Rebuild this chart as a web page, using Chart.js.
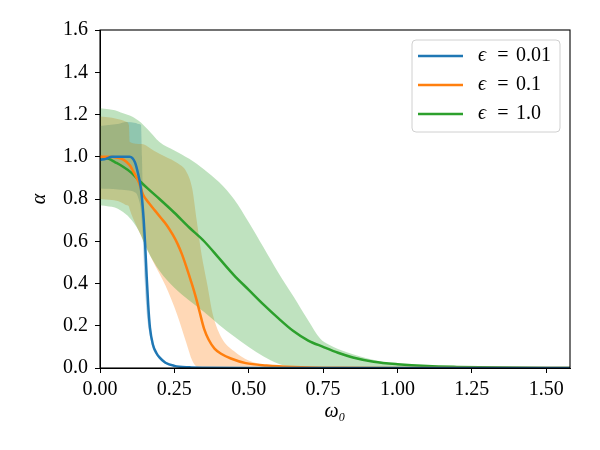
<!DOCTYPE html>
<html>
<head>
<meta charset="utf-8">
<script src="https://cdn.jsdelivr.net/npm/chart.js@4/dist/chart.umd.min.js"></script>
<style>
  body { margin: 0; background: #fff; }
  #wrap { width: 600px; height: 450px; }
</style>
</head>
<body>
<div id="wrap"><canvas id="chart" width="600" height="450"></canvas></div>
<script>
// eps = 0.01
const blueX = [0, 0.02, 0.04, 0.07, 0.10, 0.117, 0.128, 0.137, 0.142, 0.147, 0.152, 0.157, 0.162, 0.168, 0.178, 0.19, 0.20, 0.22, 0.25, 0.30, 0.35, 0.5, 1.0, 1.58];
const blueY = [0.985, 0.99, 1.0, 1.0, 1.0, 0.975, 0.92, 0.855, 0.79, 0.70, 0.58, 0.43, 0.30, 0.19, 0.11, 0.07, 0.05, 0.025, 0.01, 0.003, 0.001, 0, 0, 0];
const blueBandX = [0, 0.03, 0.06, 0.09, 0.12, 0.13, 0.138, 0.141, 0.145, 0.15, 0.155, 0.16, 0.168, 0.178, 0.19, 0.2, 0.22, 0.25, 0.3, 0.35];
const blueUpper = [1.145, 1.15, 1.155, 1.165, 1.16, 1.155, 1.15, 1.0, 0.76, 0.62, 0.48, 0.34, 0.21, 0.12, 0.075, 0.055, 0.028, 0.011, 0.003, 0.001];
const blueLower = [0.85, 0.848, 0.845, 0.842, 0.83, 0.80, 0.74, 0.68, 0.58, 0.42, 0.30, 0.22, 0.15, 0.09, 0.06, 0.042, 0.02, 0.008, 0.002, 0];

// eps = 0.1
const orangeX = [0, 0.03, 0.06, 0.08, 0.10, 0.116, 0.13, 0.145, 0.165, 0.185, 0.205, 0.225, 0.245, 0.26, 0.275, 0.29, 0.305, 0.315, 0.325, 0.335, 0.35, 0.365, 0.385, 0.41, 0.44, 0.49, 0.56, 0.65, 0.8, 1.0, 1.58];
const orangeY = [1.0, 1.0, 0.995, 0.985, 0.96, 0.92, 0.88, 0.82, 0.78, 0.745, 0.71, 0.675, 0.63, 0.59, 0.54, 0.48, 0.415, 0.37, 0.32, 0.265, 0.185, 0.135, 0.092, 0.065, 0.045, 0.023, 0.012, 0.005, 0.001, 0, 0];
const orangeBandX = [0, 0.04, 0.07, 0.09, 0.097, 0.1, 0.14, 0.18, 0.22, 0.26, 0.29, 0.31, 0.325, 0.34, 0.36, 0.38, 0.41, 0.45, 0.5, 0.55, 0.6, 0.7];
const orangeUpper = [1.19, 1.185, 1.175, 1.165, 1.15, 1.07, 1.06, 1.03, 1.0, 0.97, 0.93, 0.85, 0.70, 0.55, 0.40, 0.25, 0.14, 0.08, 0.035, 0.015, 0.005, 0.001];
const orangeLower = [0.80, 0.795, 0.785, 0.77, 0.765, 0.75, 0.62, 0.50, 0.39, 0.25, 0.12, 0.035, 0.005, 0, 0, 0, 0, 0, 0, 0, 0, 0];

// eps = 1.0
const greenX = [0, 0.03, 0.05, 0.075, 0.105, 0.13, 0.16, 0.2, 0.25, 0.3, 0.35, 0.4, 0.45, 0.5, 0.55, 0.6, 0.65, 0.7, 0.75, 0.8, 0.85, 0.92, 1.0, 1.1, 1.2, 1.35, 1.58];
const greenY = [1.0, 0.99, 0.975, 0.955, 0.925, 0.89, 0.85, 0.80, 0.735, 0.665, 0.60, 0.52, 0.44, 0.37, 0.30, 0.235, 0.175, 0.13, 0.10, 0.072, 0.05, 0.03, 0.018, 0.009, 0.005, 0.002, 0];
const greenBandX = [0, 0.03, 0.05, 0.07, 0.1, 0.13, 0.16, 0.2, 0.25, 0.3, 0.35, 0.4, 0.45, 0.5, 0.55, 0.6, 0.65, 0.7, 0.74, 0.77, 0.8, 0.85, 0.9, 0.95, 1.0, 1.1, 1.2, 1.3];
const greenUpper = [1.23, 1.225, 1.22, 1.21, 1.195, 1.17, 1.13, 1.07, 1.03, 0.99, 0.94, 0.88, 0.80, 0.69, 0.57, 0.45, 0.34, 0.225, 0.14, 0.11, 0.09, 0.065, 0.045, 0.03, 0.018, 0.006, 0.002, 0];
const greenLower = [0.77, 0.765, 0.76, 0.745, 0.71, 0.65, 0.555, 0.46, 0.38, 0.32, 0.265, 0.205, 0.15, 0.1, 0.055, 0.02, 0.002, 0, 0, 0, 0, 0, 0, 0, 0, 0, 0, 0];

const labels = ['0.01', '0.1', '1.0'];
const colors = ['#1f77b4', '#ff7f0e', '#2ca02c'];
const bandColors = ['rgba(31,119,180,0.3)', 'rgba(255,127,14,0.3)', 'rgba(44,160,44,0.3)'];

const FONT = "'Liberation Serif', 'DejaVu Serif', serif";

function pts(xs, ys) {
  return xs.map((x, i) => ({ x: x, y: ys[i] }));
}

function line(xs, ys, i) {
  return {
    label: labels[i], data: pts(xs, ys), borderColor: colors[i], borderWidth: 2.5,
    pointRadius: 0, fill: false, cubicInterpolationMode: 'monotone', order: 0
  };
}

function band(xs, ys, fillTo, i) {
  return {
    data: pts(xs, ys), borderWidth: 0, borderColor: 'rgba(0,0,0,0)', pointRadius: 0,
    backgroundColor: bandColors[i], fill: fillTo, cubicInterpolationMode: 'monotone', order: 5 - i
  };
}

const datasets = [
  line(blueX, blueY, 0),
  line(orangeX, orangeY, 1),
  line(greenX, greenY, 2),
  band(blueBandX, blueUpper, 4, 0),
  band(blueBandX, blueLower, false, 0),
  band(orangeBandX, orangeUpper, 6, 1),
  band(orangeBandX, orangeLower, false, 1),
  band(greenBandX, greenUpper, 8, 2),
  band(greenBandX, greenLower, false, 2)
];

const frame = {
  id: 'frame',
  afterDatasetsDraw(chart) {
    const a = chart.chartArea, ctx = chart.ctx;
    ctx.save();
    ctx.strokeStyle = '#000';
    ctx.lineWidth = 1.1;
    ctx.strokeRect(a.left, a.top, a.right - a.left, a.bottom - a.top);
    ctx.restore();
  },
  afterDraw(chart) {
    const a = chart.chartArea, ctx = chart.ctx;
    const w = 148, h = 92;
    const x0 = a.right - 10 - w, y0 = a.top + 10;
    ctx.save();
    ctx.beginPath();
    ctx.roundRect(x0, y0, w, h, 4);
    ctx.fillStyle = 'rgba(255,255,255,0.8)';
    ctx.fill();
    ctx.strokeStyle = '#d0d0d0';
    ctx.lineWidth = 1;
    ctx.stroke();
    ctx.textBaseline = 'middle';
    for (let i = 0; i < 3; i++) {
      const y = y0 + 16 + i * 29;
      ctx.strokeStyle = colors[i];
      ctx.lineWidth = 2.5;
      ctx.beginPath();
      ctx.moveTo(x0 + 6, y);
      ctx.lineTo(x0 + 51, y);
      ctx.stroke();
      ctx.fillStyle = '#000';
      ctx.font = 'italic 20px ' + FONT;
      ctx.textAlign = 'left';
      ctx.fillText('ϵ', x0 + 66, y);
      ctx.font = '20px ' + FONT;
      ctx.textAlign = 'center';
      ctx.fillText('=', x0 + 91, y);
      ctx.textAlign = 'left';
      ctx.fillText(labels[i], x0 + 104, y);
    }
    ctx.restore();
  }
};

new Chart(document.getElementById('chart'), {
  type: 'line',
  data: { datasets: datasets },
  plugins: [frame],
  options: {
    responsive: false,
    animation: false,
    layout: { padding: { top: 30, right: 30, left: 0, bottom: 0 } },
    plugins: { legend: { display: false }, tooltip: { enabled: false } },
    scales: {
      x: {
        type: 'linear', min: 0, max: 1.58,
        afterFit(s) { s.height = 82; },
        ticks: {
          stepSize: 0.25, includeBounds: false, color: '#000', padding: 5,
          font: { family: FONT, size: 20 }, maxRotation: 0,
          callback: v => v.toFixed(2)
        },
        grid: { drawOnChartArea: false, drawTicks: true, tickLength: 5, tickColor: '#000' },
        border: { display: true, color: '#000', width: 1 },
        title: {
          display: true, text: 'ω₀', color: '#000',
          font: { family: FONT, size: 20, style: 'italic' }, padding: { top: 0, bottom: 26 }
        }
      },
      y: {
        min: 0, max: 1.6,
        afterFit(s) { s.width = 100; },
        ticks: {
          stepSize: 0.2, color: '#000', padding: 7,
          font: { family: FONT, size: 20 },
          callback: v => v.toFixed(1)
        },
        grid: { drawOnChartArea: false, drawTicks: true, tickLength: 5, tickColor: '#000' },
        border: { display: true, color: '#000', width: 1 },
        title: {
          display: true, text: 'α', color: '#000',
          font: { family: FONT, size: 20, style: 'italic' }, padding: { top: 28, bottom: 0 }
        }
      }
    }
  }
});
</script>
</body>
</html>
